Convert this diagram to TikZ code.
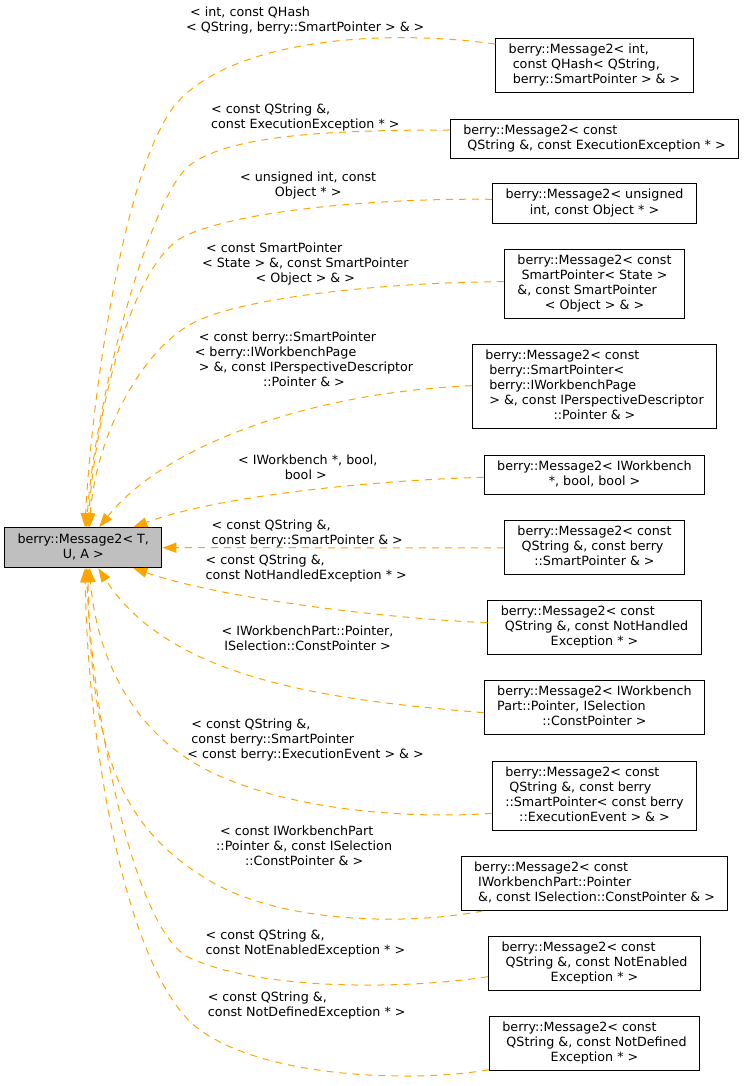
\documentclass[tikz,border=0pt]{standalone}
\usepackage{fontspec}
\setmainfont{DejaVu Sans}
\usetikzlibrary{arrows.meta}
\definecolor{edgeorange}{HTML}{FFA500}
\definecolor{mainfill}{HTML}{BFBFBF}
\newcommand\mylines[1]{\begin{tabular}{@{}l@{}}#1\end{tabular}}
\newcommand\lastc[1]{\multicolumn{1}{@{}c@{}}{#1}}
\begin{document}
\begin{tikzpicture}[x=1pt,y=-1pt,
  font=\fontsize{12.7}{15}\selectfont,
  box/.style={draw=black, line width=1pt, fill=white, inner xsep=13pt, inner ysep=4.5pt},
  mainbox/.style={box, fill=mainfill, minimum width=157pt, minimum height=40pt, inner xsep=0pt},
  lab/.style={inner sep=0pt, anchor=north west},
  edge/.style={draw=edgeorange, line width=1pt, dash pattern=on 7pt off 6pt,
    -{Triangle[length=14pt,width=10pt]}}]
\useasboundingbox (0,0) rectangle (744,1086);

% main node
\node[mainbox] (main) at (83.3,547.7) {\mylines{berry::Message2< T,\\\lastc{U, A >}}};

% right nodes
\node[box] (N1) at (594.5,65.3) {\mylines{berry::Message2< int,\\\ const QHash< QString,\\\lastc{\ berry::SmartPointer > \& >}}};
\node[box] (N2) at (594.5,138.7) {\mylines{berry::Message2< const\\\ QString \&, const ExecutionException * >}};
\node[box] (N3) at (594.5,203.5) {\mylines{berry::Message2< unsigned\\\lastc{int, const Object * >}}};
\node[box] (N4) at (594.5,284) {\mylines{berry::Message2< const\\\ SmartPointer< State >\\\&, const SmartPointer\\\lastc{< Object > \& >}}};
\node[box] (N5) at (594.5,386.7) {\mylines{berry::Message2< const\\\ berry::SmartPointer<\\\ berry::IWorkbenchPage\\\ > \&, const IPerspectiveDescriptor\\\lastc{::Pointer \& >}}};
\node[box] (N6) at (594.5,474.7) {\mylines{berry::Message2< IWorkbench\\\lastc{*, bool, bool >}}};
\node[box] (N7) at (594.5,547.8) {\mylines{berry::Message2< const\\\ QString \&, const berry\\\lastc{::SmartPointer \& >}}};
\node[box] (N8) at (594.5,627.5) {\mylines{berry::Message2< const\\\ QString \&, const NotHandled\\\lastc{Exception * >}}};
\node[box] (N9) at (594.5,707.8) {\mylines{berry::Message2< IWorkbench\\Part::Pointer, ISelection\\\lastc{::ConstPointer >}}};
\node[box] (N10) at (594.5,796) {\mylines{berry::Message2< const\\\ QString \&, const berry\\::SmartPointer< const berry\\\lastc{::ExecutionEvent > \& >}}};
\node[box] (N11) at (594.5,883.5) {\mylines{berry::Message2< const\\\ IWorkbenchPart::Pointer\\\ \&, const ISelection::ConstPointer \& >}};
\node[box] (N12) at (594.5,963.8) {\mylines{berry::Message2< const\\\ QString \&, const NotEnabled\\\lastc{Exception * >}}};
\node[box] (N13) at (594.5,1043.7) {\mylines{berry::Message2< const\\\ QString \&, const NotDefined\\\lastc{Exception * >}}};

% edge labels
\node[lab] (L1) at (186,5.7) {\mylines{\ < int, const QHash\\< QString, berry::SmartPointer > \& >}};
\node[lab] (L2) at (211,102.5) {\mylines{< const QString \&,\\const ExecutionException * >}};
\node[lab] (L3) at (240,170.7) {\mylines{< unsigned int, const\\\lastc{Object * >}}};
\node[lab] (L4) at (202,241.3) {\mylines{\ < const SmartPointer\\< State > \&, const SmartPointer\\\lastc{< Object > \& >}}};
\node[lab] (L5) at (194.6,330.7) {\mylines{\ < const berry::SmartPointer\\< berry::IWorkbenchPage\\\ > \&, const IPerspectiveDescriptor\\\lastc{::Pointer \& >}}};
\node[lab] (L6) at (234,454) {\mylines{\ < IWorkbench *, bool,\\\lastc{bool >}}};
\node[lab] (L7) at (211.4,519) {\mylines{< const QString \&,\\const berry::SmartPointer \& >}};
\node[lab] (L8) at (205.5,554) {\mylines{< const QString \&,\\const NotHandledException * >}};
\node[lab] (L9) at (221.5,625) {\mylines{< IWorkbenchPart::Pointer,\\\lastc{ISelection::ConstPointer >}}};
\node[lab] (L10) at (187.2,717.3) {\mylines{\ < const QString \&,\\\ const berry::SmartPointer\\< const berry::ExecutionEvent > \& >}};
\node[lab] (L11) at (216,824.7) {\mylines{\ < const IWorkbenchPart\\::Pointer \&, const ISelection\\\lastc{::ConstPointer \& >}}};
\node[lab] (L12) at (205.4,929) {\mylines{< const QString \&,\\const NotEnabledException * >}};
\node[lab] (L13) at (207.6,990.7) {\mylines{< const QString \&,\\const NotDefinedException * >}};

% edges
\draw[edge] ([yshift=21.3pt]N1.west) .. controls (380,28) and (230,40) .. (175,105) .. controls (120,175) and (90,420) .. ([xshift=1.7pt]main.north);
\draw[edge] ([yshift=8.7pt]N2.west) .. controls (330,130) and (230,135) .. (190,165) .. controls (150,195) and (95,400) .. ([xshift=3.2pt]main.north);
\draw[edge] ([yshift=4.2pt]N3.west) .. controls (380,198) and (240,210) .. (185,236) .. controls (130,262) and (95,420) .. ([xshift=4.7pt]main.north);
\draw[edge] ([yshift=2.3pt]N4.west) .. controls (400,282) and (250,295) .. (195,322) .. controls (140,349) and (95,440) .. ([xshift=6.2pt]main.north);
\draw[edge] ([yshift=1pt]N5.west) .. controls (300,393) and (160,450) .. ([xshift=16pt]main.north);
\draw[edge] ([yshift=-2.6pt]N6.west) .. controls (380,480) and (220,495) .. ([xshift=50pt]main.north);
\draw[edge] (N7.west) -- (main.east);
\draw[edge] ([yshift=4.8pt]N8.west) .. controls (380,618) and (220,598) .. ([xshift=50pt]main.south);
\draw[edge] ([yshift=-4.9pt]N9.west) .. controls (330,700) and (170,680) .. ([xshift=15pt]main.south);
\draw[edge] ([yshift=-17.3pt]N10.west) .. controls (400,820) and (260,808) .. (185,757) .. controls (120,713) and (95,640) .. ([xshift=6.2pt]main.south);
\draw[edge] ([xshift=22pt]N11.south west) .. controls (410,925) and (280,925) .. (205,878) .. controls (125,828) and (90,760) .. ([xshift=4.7pt]main.south);
\draw[edge] ([yshift=-12.9pt]N12.west) .. controls (400,990) and (260,990) .. (190,958) .. controls (135,933) and (92,720) .. ([xshift=3.2pt]main.south);
\draw[edge] ([yshift=1.5pt]N13.south west) .. controls (420,1082) and (270,1080) .. (200,1030) .. controls (130,980) and (88,760) .. ([xshift=1.7pt]main.south);
\end{tikzpicture}
\end{document}
